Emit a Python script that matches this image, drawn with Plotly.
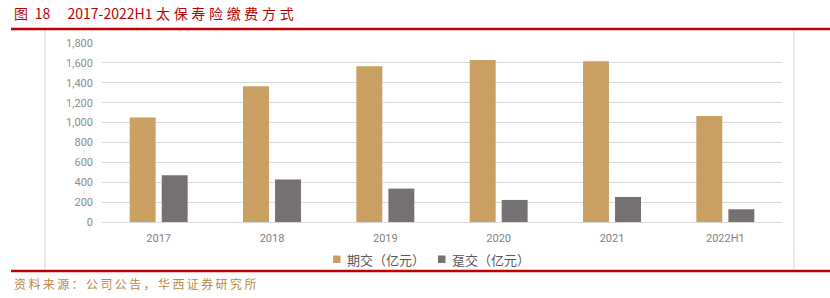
import plotly.graph_objects as go

categories = ["2017", "2018", "2019", "2020", "2021", "2022H1"]
regular_premium = [1052, 1365, 1566, 1630, 1617, 1066]
single_premium = [471, 427, 336, 222, 252, 128]
series_names = ["期交（亿元）", "趸交（亿元）"]
y_ticks = [0, 200, 400, 600, 800, 1000, 1200, 1400, 1600, 1800]
y_tick_labels = ["0", "200", "400", "600", "800", "1,000", "1,200", "1,400", "1,600", "1,800"]
title_text = "图 18\u2003 2017-2022H1\u2005太保寿险缴费方式"
source_text = "资料来源：公司公告，华西证券研究所"

W, H = 830, 298
def px(x): return x / W
def py(y): return (H - y) / H

GOLD = "#C9A062"
GRAY = "#767171"
CJK = "Noto Sans CJK SC"

def spaced(s, sep):
    out = ""
    for ch in s:
        out += ch
        if ord(ch) > 0x2E80:
            out += sep
    return out

fig = go.Figure()
fig.add_trace(go.Bar(x=categories, y=regular_premium, name=series_names[0],
                     marker=dict(color=GOLD, line=dict(width=0)), showlegend=False))
fig.add_trace(go.Bar(x=categories, y=single_premium, name=series_names[1],
                     marker=dict(color=GRAY, line=dict(width=0)), showlegend=False))

fig.update_layout(
    template="none",
    width=W, height=H,
    margin=dict(l=0, r=0, t=0, b=0, pad=0),
    paper_bgcolor="white", plot_bgcolor="white",
    barmode="group", bargap=0.435, bargroupgap=0.19,
    font=dict(family=CJK, color="#7f7f7f", size=11),
    xaxis=dict(type="category", domain=[px(102), px(782)], showgrid=False, zeroline=False,
               automargin=False, showline=False, ticks="",
               tickfont=dict(size=11, color="#7f7f7f", family="Roboto"),
               ticklabelstandoff=8, fixedrange=True),
    yaxis=dict(domain=[py(222), py(43)], range=[0, 1800], tickvals=y_ticks, automargin=False,
               ticktext=y_tick_labels, showgrid=True, gridcolor="#d9d9d9",
               gridwidth=1, zeroline=True, zerolinecolor="#d9d9d9", zerolinewidth=1,
               showline=False, ticks="", tickfont=dict(size=11, color="#8c8c8c", family="Roboto"),
               ticklabelstandoff=8, fixedrange=True),
    showlegend=False,
)

shapes = [
    dict(type="rect", xref="paper", yref="paper", x0=px(45), x1=px(794), y0=py(271), y1=py(29),
         line=dict(color="#d9d9d9", width=1), fillcolor="rgba(0,0,0,0)", layer="below"),
    dict(type="line", xref="paper", yref="paper", x0=px(11), x1=1, y0=py(29), y1=py(29),
         line=dict(color="#C00000", width=2.5)),
    dict(type="line", xref="paper", yref="paper", x0=px(11), x1=1, y0=py(271), y1=py(271),
         line=dict(color="#C00000", width=2.5)),
]

legend_items = [(333, GOLD, series_names[0]), (438, GRAY, series_names[1])]
for x0, col, name in legend_items:
    shapes.append(dict(type="rect", xref="paper", yref="paper", x0=px(x0), x1=px(x0 + 7.5),
                       y0=py(263), y1=py(255.5), line=dict(width=0), fillcolor=col))
    fig.add_annotation(xref="paper", yref="paper", x=px(x0 + 12), y=py(259.5), xanchor="left",
                       yanchor="middle", text=name, showarrow=False,
                       font=dict(family=CJK, size=13, color="#595959"))
fig.update_layout(shapes=shapes)

fig.add_annotation(xref="paper", yref="paper", x=px(12), y=py(13), xanchor="left", yanchor="middle",
                   text=spaced(title_text, "\u2009\u200A"), showarrow=False,
                   font=dict(family=CJK, size=14, color="#C00000"))
fig.add_annotation(xref="paper", yref="paper", x=px(12), y=py(283), xanchor="left", yanchor="middle",
                   text=spaced(source_text, "\u2009"), showarrow=False,
                   font=dict(family=CJK, size=12, color="#B8894A"))

fig.write_html("out.html")
